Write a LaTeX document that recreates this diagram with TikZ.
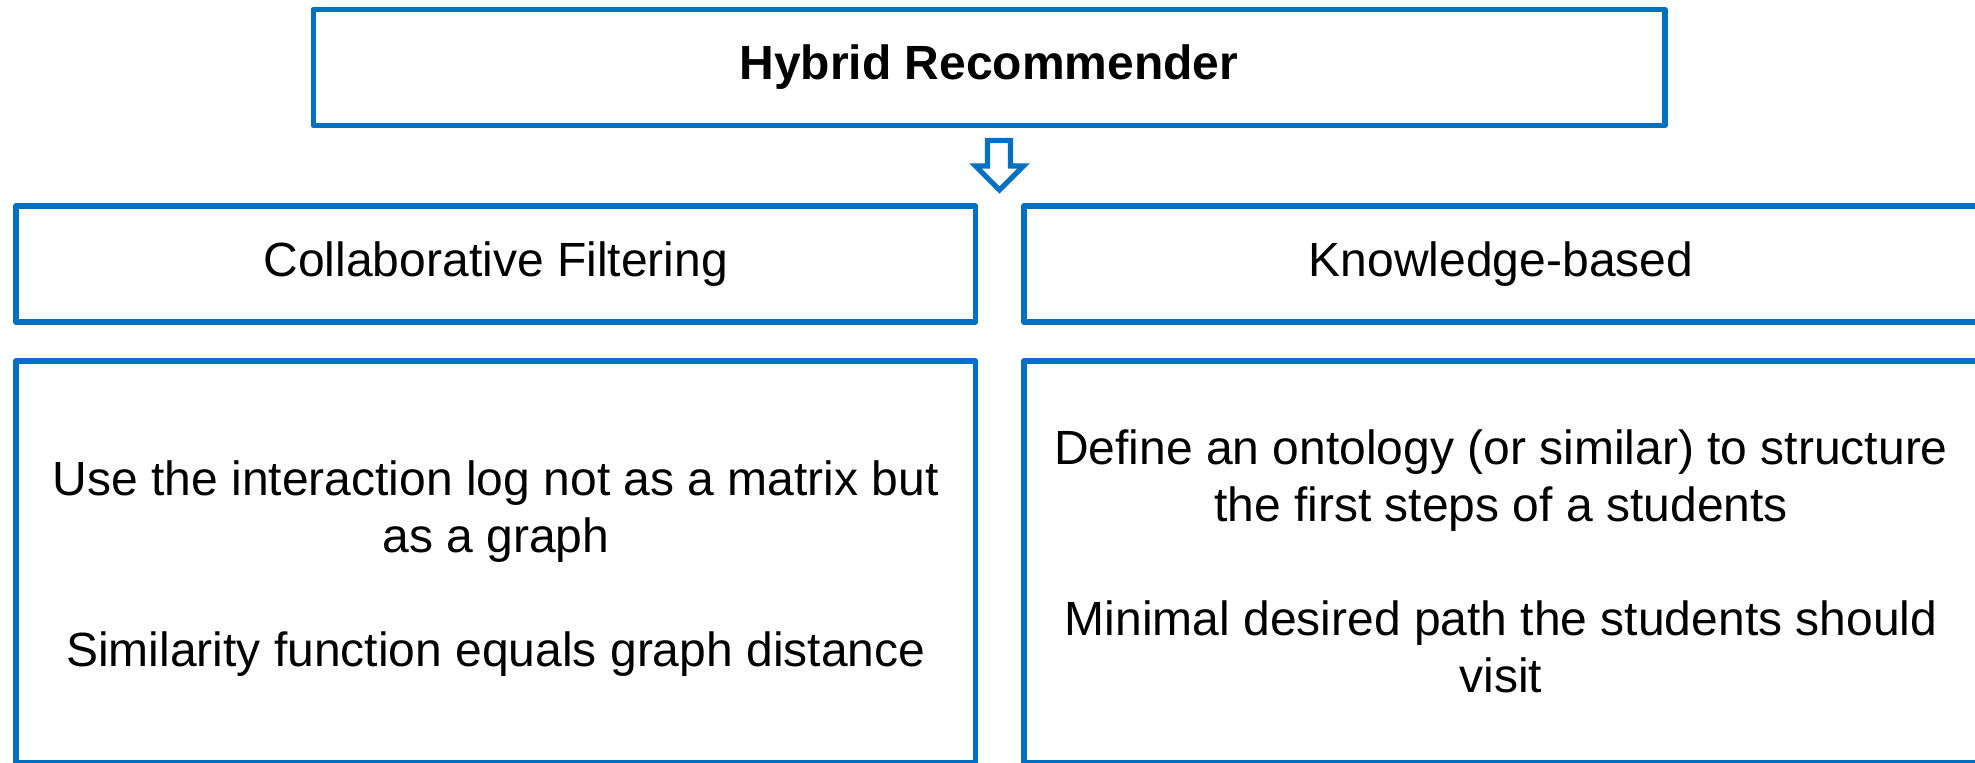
\documentclass[tikz,border=0pt]{standalone}
\usepackage{fontspec}
\setmainfont{Liberation Sans}
\definecolor{boxblue}{RGB}{0,112,192}
\begin{document}
\begin{tikzpicture}[x=0.5pt,y=-0.5pt,
  box/.style={draw=boxblue, line width=2.8pt, line join=round, rectangle,
    inner sep=0pt, outer sep=0pt, align=center,
    font=\fontsize{24}{28.5}\selectfont},
  bodytext/.style={inner sep=0pt, align=center, font=\fontsize{24}{28.5}\selectfont},
  blockarrow/.style={draw=boxblue, line width=2.6pt, line join=miter, fill=white}]
\useasboundingbox (0,0) rectangle (1975,762);
\clip (0,0) rectangle (1975,762);
\node[box, minimum width=675.7pt, minimum height=58pt] (hybrid) at (989,67.5)
  {\bfseries Hybrid Recommender};
\node[box, minimum width=479.75pt, minimum height=58pt] (cf) at (495.75,264)
  {Collaborative Filtering};
\node[box, minimum width=477pt, minimum height=58pt] (kb) at (1501,264)
  {Knowledge-based};
\node[box, minimum width=479.75pt, minimum height=200.75pt] (cfbody) at (495.75,561.75) {};
\node[bodytext, yshift=-3.5pt] (cftext) at (cfbody.center)
  {Use the interaction log not as a matrix but\\as a graph\\[28.5pt]Similarity function equals graph distance};
\node[box, minimum width=477pt, minimum height=200.75pt] (kbbody) at (1501,561.75)
  {Define an ontology (or similar) to structure\\the first steps of a students\\[28.5pt]Minimal desired path the students should\\visit};
\coordinate (arrtop) at (999.5,140.5);
\draw[blockarrow, shift={(arrtop)}] (-12,0) -- (11,0) -- (11,25.5) -- (24,25.5)
  -- (0,49.5) -- (-24,25.5) -- (-12,25.5) -- cycle;
\end{tikzpicture}
\end{document}
